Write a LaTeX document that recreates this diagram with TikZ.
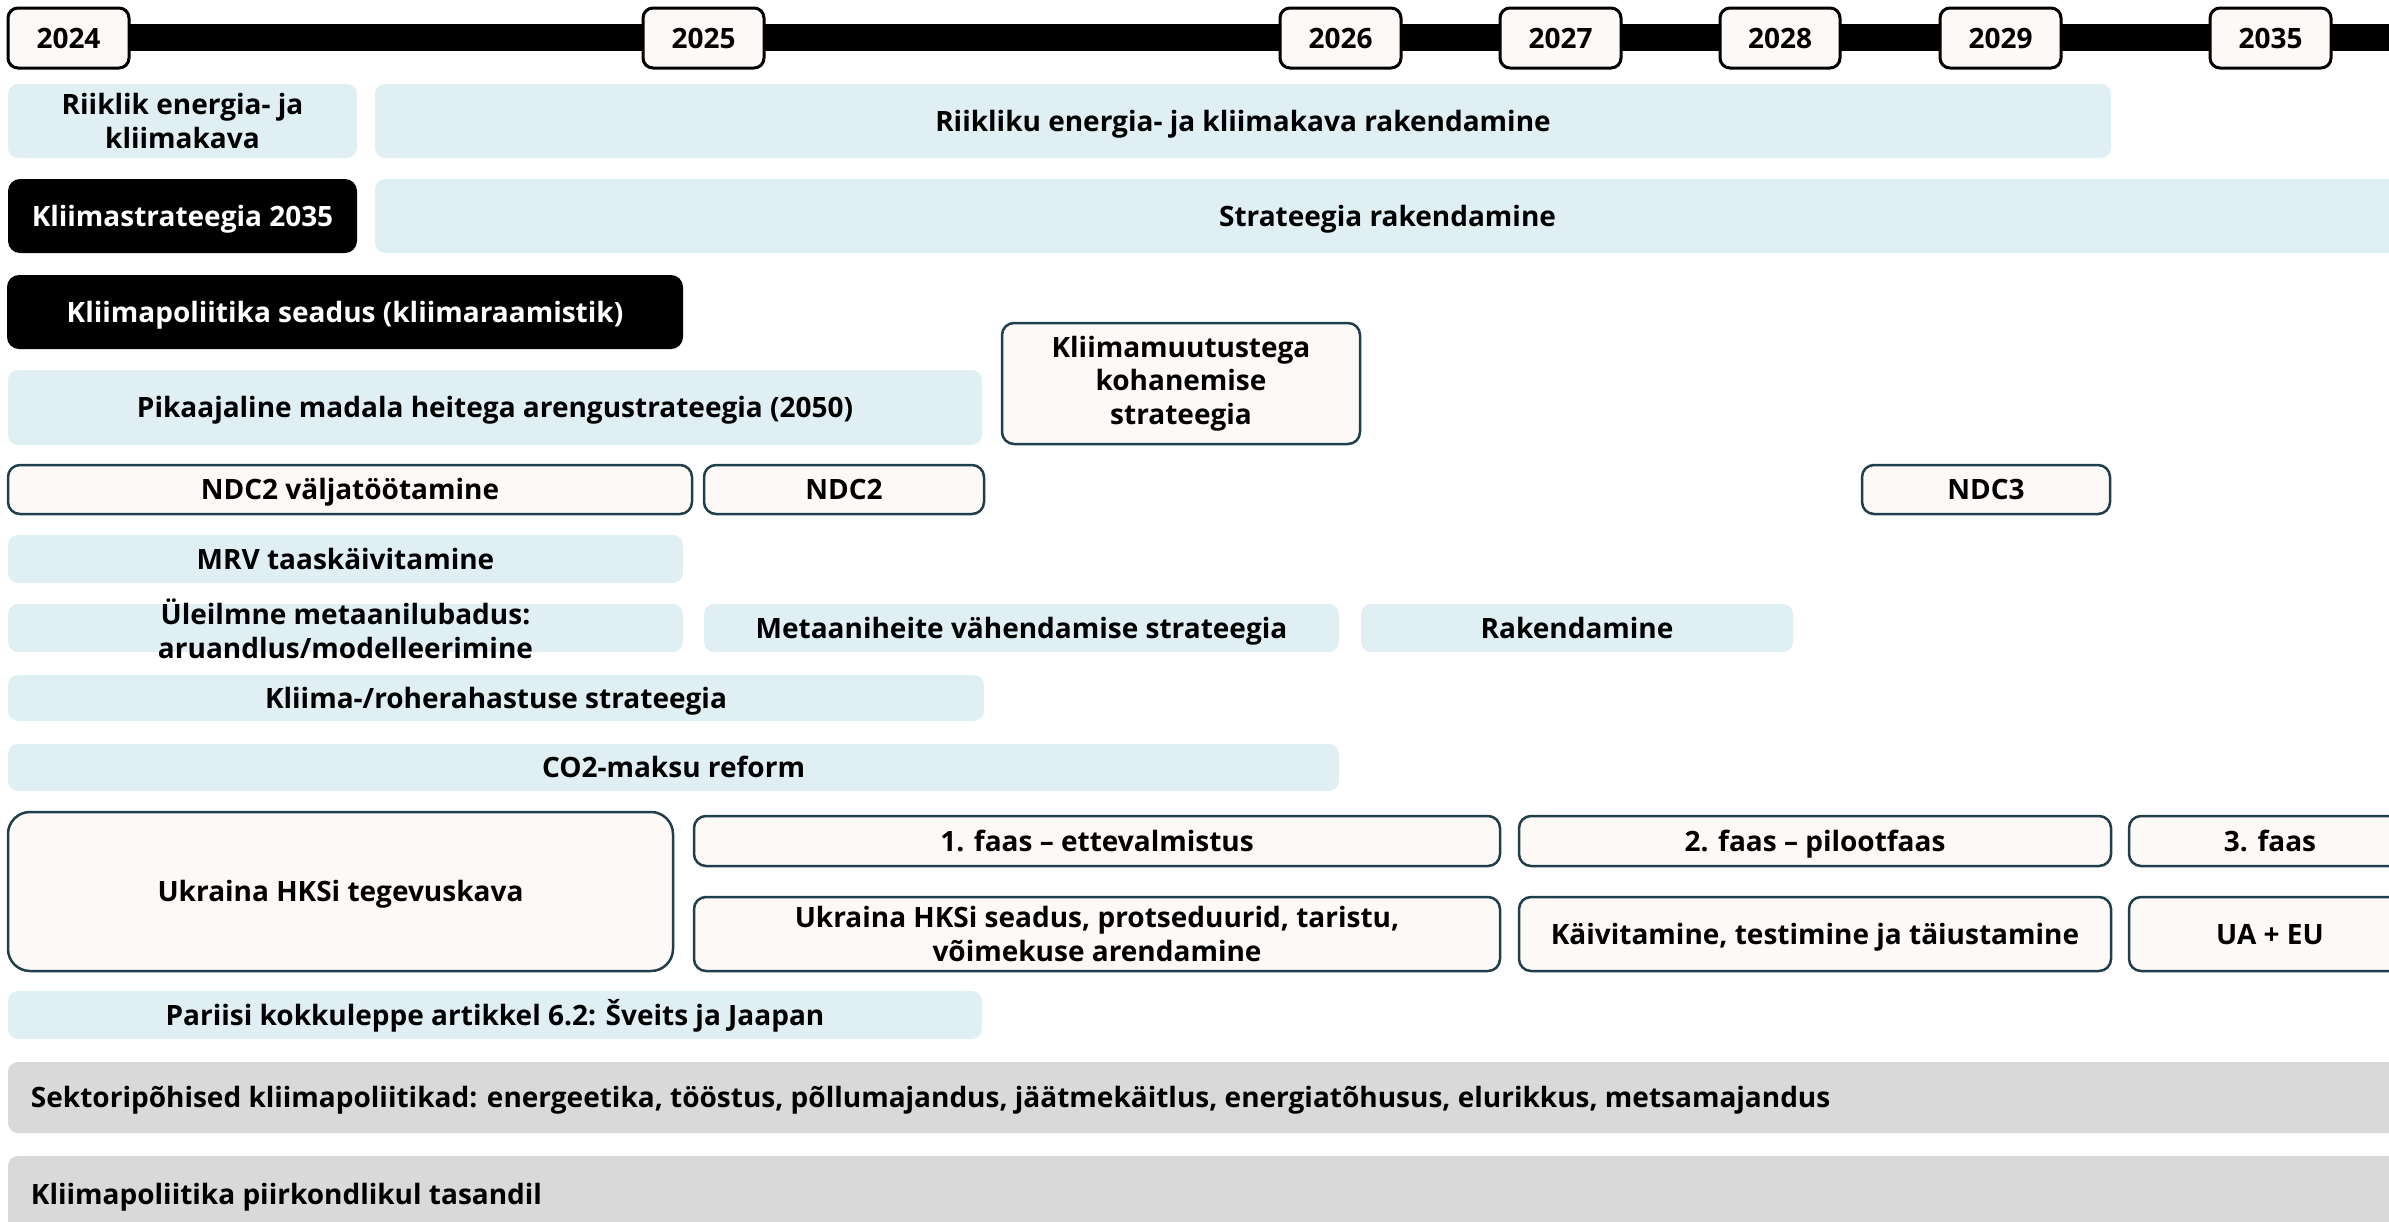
\documentclass[tikz,border=0pt]{standalone}
\usepackage{fontspec}
\setmainfont{Open Sans}
\definecolor{lblue}{HTML}{E0EFF4}
\definecolor{cream}{HTML}{FDF9F6}
\definecolor{tealb}{HTML}{1F3F4C}
\definecolor{grayb}{HTML}{D9D9D9}
\tikzset{
 txt/.style={font=\bfseries\fontsize{28}{33.5}\selectfont, align=center, inner sep=0pt, outer sep=0pt, text=black},
 base/.style={txt, execute at begin node={\rule[-7pt]{0pt}{34pt}}},
 lbshape/.style={fill=lblue, rounded corners=10pt},
 crshape/.style={fill=cream, draw=tealb, line width=2.5pt, rounded corners=12pt},
 lb/.style={base, lbshape},
 cr/.style={base, crshape},
 bk/.style={base, fill=black, text=white, rounded corners=12pt},
 gr/.style={base, fill=grayb, rounded corners=10pt, align=left},
 yr/.style={base, fill=cream, draw=black, line width=3pt, rounded corners=10pt},
}
\newcommand\bx[7]{\node[#2, minimum width={(#5)-(#3)}, minimum height={(#6)-(#4)}] (#1) at ({((#3)+(#5))/2},{((#4)+(#6))/2}) {#7};}
\begin{document}
\begin{tikzpicture}[x=1pt,y=-1pt]
\useasboundingbox (0,0) rectangle (2389,1221);
\clip (0,0) rectangle (2389,1221);
% timeline
\bx{bar}{fill=black, inner sep=0pt}{7}{24}{2420}{51}{}
\bx{y24}{yr}{8}{8}{129}{68}{2024}
\bx{y25}{yr}{643}{8}{764}{68}{2025}
\bx{y26}{yr}{1280}{8}{1401}{68}{2026}
\bx{y27}{yr}{1500}{8}{1621}{68}{2027}
\bx{y28}{yr}{1720}{8}{1840}{68}{2028}
\bx{y29}{yr}{1940}{8}{2061}{68}{2029}
\bx{y35}{yr}{2210}{8}{2331}{68}{2035}
% rows
\bx{rek}{txt, lbshape}{8}{84}{357}{158}{Riiklik energia- ja\\kliimakava}
\bx{rekr}{lb}{375}{84}{2111}{158}{Riikliku energia- ja kliimakava rakendamine}
\bx{ks}{bk}{8}{179}{357}{253}{Kliimastrateegia 2035}
\bx{ksr}{lb}{375}{179}{2400}{253}{Strateegia rakendamine}
\bx{kps}{bk}{7}{275}{683}{349}{Kliimapoliitika seadus (kliimaraamistik)}
\bx{pik}{lb}{8}{370}{982}{445}{Pikaajaline madala heitega arengustrateegia (2050)}
\bx{koh}{txt, crshape}{1002}{323}{1360}{444}{Kliimamuutustega\\kohanemise\\strateegia}
\bx{ndcv}{cr}{8}{465}{692}{514}{NDC2 väljatöötamine}
\bx{ndc2}{cr}{704}{465}{984}{514}{NDC2}
\bx{ndc3}{cr}{1862}{465}{2110}{514}{NDC3}
\bx{mrv}{lb}{8}{535}{683}{583}{MRV taaskäivitamine}
\bx{ule}{txt, lbshape, label={[txt, yshift=-1pt]center:Üleilmne metaanilubadus:\\aruandlus/modelleerimine}}{8}{604}{683}{652}{}
\bx{met}{lb}{704}{604}{1339}{652}{Metaaniheite vähendamise strateegia}
\bx{rak}{lb}{1361}{604}{1793}{652}{Rakendamine}
\bx{roh}{lb}{8}{675}{984}{721}{Kliima-/roherahastuse strateegia}
\bx{co2}{lb}{8}{744}{1339}{791}{CO2-maksu reform}
\bx{hks}{cr, rounded corners=22pt}{8}{812}{673}{971}{Ukraina HKSi tegevuskava}
\bx{f1}{cr}{694}{816}{1500}{866}{1. faas – ettevalmistus}
\bx{f2}{cr}{1519}{816}{2111}{866}{2. faas – pilootfaas}
\bx{f3}{cr}{2129}{816}{2411}{866}{3. faas}
\bx{sea}{txt, crshape}{694}{897}{1500}{971}{Ukraina HKSi seadus, protseduurid, taristu,\\võimekuse arendamine}
\bx{kai}{cr}{1519}{897}{2111}{971}{Käivitamine, testimine ja täiustamine}
\bx{uaeu}{cr}{2129}{897}{2411}{971}{UA + EU}
\bx{par}{lb}{8}{991}{982}{1039}{Pariisi kokkuleppe artikkel 6.2: Šveits ja Jaapan}
\bx{sek}{gr, label={[base, anchor=west]west:\hspace*{23pt}Sektoripõhised kliimapoliitikad: energeetika, tööstus, põllumajandus, jäätmekäitlus, energiatõhusus, elurikkus, metsamajandus}}{8}{1062}{2410}{1133}{}
\bx{pii}{gr, label={[base, anchor=west]west:\hspace*{23pt}Kliimapoliitika piirkondlikul tasandil}}{8}{1156}{2410}{1232}{}
\end{tikzpicture}
\end{document}
